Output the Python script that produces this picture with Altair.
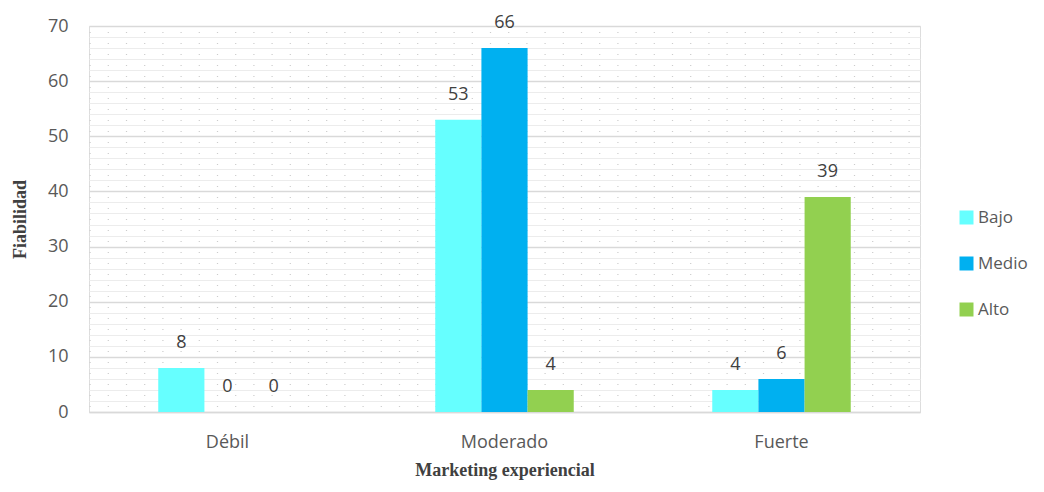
import altair as alt
import pandas as pd

categories = ["Débil", "Moderado", "Fuerte"]
series = ["Bajo", "Medio", "Alto"]
bajo = [8, 53, 4]
medio = [0, 66, 6]
alto = [0, 4, 39]
colors = ["#66FFFF", "#00B0F0", "#92D050"]
y_ticks = [0, 10, 20, 30, 40, 50, 60, 70]
minor_ticks = [v for v in range(0, 71, 2) if v % 10 != 0]
dot_ticks = [v + 1 for v in range(0, 70, 2)]

rows = []
for i, c in enumerate(categories):
    for s, vals in zip(series, [bajo, medio, alto]):
        rows.append({"cat": c, "serie": s, "valor": vals[i]})
df = pd.DataFrame(rows)

font = "Open Sans"
x = alt.X("cat:N", sort=categories, title="Marketing experiencial",
          scale=alt.Scale(paddingInner=0.5, paddingOuter=0.25),
          axis=alt.Axis(labelAngle=0, labelFont=font, labelFontSize=18, labelColor="#595959",
                        labelPadding=21, ticks=False, domainColor="#d9d9d9", domainWidth=1.5,
                        titleFont="Liberation Serif", titleFontSize=18, titleFontWeight="bold",
                        titleColor="#404040", titlePadding=10))
xoff = alt.XOffset("serie:N", sort=series,
                   scale=alt.Scale(paddingInner=0, paddingOuter=0))
yscale = alt.Scale(domain=[0, 70])

minor = alt.Chart(df).mark_bar(opacity=0).encode(
    x=x,
    y=alt.Y("valor:Q", scale=yscale,
            axis=alt.Axis(orient="left", values=minor_ticks, grid=True, gridColor="#ececec",
                          gridWidth=1, labels=False, ticks=False, domain=False, title=None)),
)

dots = alt.Chart(df).mark_bar(opacity=0).encode(
    x=x,
    y=alt.Y("valor:Q", scale=yscale,
            axis=alt.Axis(orient="left", values=dot_ticks, grid=True,
                          gridColor="#cccccc", gridWidth=1.2, gridDash=[1.2, 17],
                          labels=False, ticks=False, domain=False, title=None)),
)

bars = alt.Chart(df).mark_bar().encode(
    x=x,
    xOffset=xoff,
    y=alt.Y("valor:Q", scale=yscale, title="Fiabilidad",
            axis=alt.Axis(orient="left", values=y_ticks, grid=True, gridColor="#d9d9d9",
                          gridWidth=1.5, domain=False, ticks=False, labelFont=font,
                          labelFontSize=18, labelColor="#595959", labelPadding=21,
                          titleFont="Liberation Serif", titleFontSize=18, titleFontWeight="bold",
                          titleColor="#404040", titlePadding=18)),
    color=alt.Color("serie:N", sort=series,
                    scale=alt.Scale(domain=series, range=colors),
                    legend=alt.Legend(title=None, orient="none", legendX=869, legendY=183,
                                      symbolType="square", symbolSize=196, symbolStrokeWidth=0,
                                      labelFont=font, labelFontSize=17, labelColor="#595959",
                                      rowPadding=28, labelOffset=3)),
)

labels = alt.Chart(df).mark_text(dy=-25, font=font, fontSize=18, color="#404040").encode(
    x=x,
    xOffset=xoff,
    y=alt.Y("valor:Q", scale=yscale, axis=None),
    text="valor:Q",
)

chart = alt.layer(minor, dots, bars, labels).resolve_axis(y="independent").properties(
    width=831, height=386,
    autosize=alt.AutoSizeParams(type="none"),
    padding={"left": 81, "top": 18, "right": 114, "bottom": 68},
).configure_view(stroke=None).configure(background="white")

chart.save("out.html", embed_options={"renderer": "svg", "actions": False})
